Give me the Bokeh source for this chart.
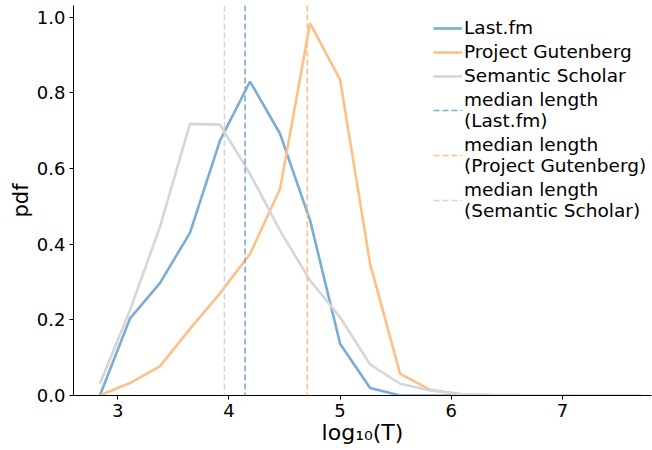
from bokeh.plotting import figure
from bokeh.models import Range1d, Span, Legend, LegendItem, FixedTicker
from bokeh.embed import file_html
from bokeh.resources import INLINE

# ---- data ----
log_t = [2.84, 3.11, 3.38, 3.65, 3.92, 4.19, 4.46, 4.73, 5.00, 5.27,
         5.54, 5.81, 6.08, 6.35, 6.62, 6.89, 7.16, 7.43, 7.70]
lastfm = [0.000, 0.203, 0.297, 0.430, 0.674, 0.830, 0.692, 0.463, 0.137, 0.020,
          0.000, 0.000, 0.000, 0.000, 0.000, 0.000, 0.000, 0.000, 0.000]
gutenberg = [0.000, 0.033, 0.077, 0.176, 0.270, 0.374, 0.546, 0.984, 0.835, 0.348,
             0.057, 0.015, 0.004, 0.001, 0.0005, 0.000, 0.000, 0.000, 0.000]
scholar = [0.031, 0.225, 0.445, 0.718, 0.716, 0.586, 0.436, 0.304, 0.207, 0.082,
           0.031, 0.013, 0.004, 0.002, 0.001, 0.0005, 0.000, 0.000, 0.000]

series_names = ["Last.fm", "Project Gutenberg", "Semantic Scholar"]
median_lengths = [4.146, 4.705, 3.96]
colors = ["#79add2", "#ffbf86", "#d6d6d6"]

x_ticks = [3, 4, 5, 6, 7]
y_ticks = [0.0, 0.2, 0.4, 0.6, 0.8, 1.0]
y_tick_labels = ["0.0", "0.2", "0.4", "0.6", "0.8", "1.0"]

FONT = "DejaVu Sans"

p = figure(width=652, height=450, output_backend="svg", toolbar_location=None,
           x_range=Range1d(2.603, 7.80), y_range=Range1d(0, 1.031),
           min_border_left=73, min_border_right=1, min_border_top=5,
           min_border_bottom=55)
p.outline_line_color = None
p.xgrid.visible = False
p.ygrid.visible = False
p.background_fill_color = "white"
p.border_fill_color = "white"

for ax in (p.xaxis[0], p.yaxis[0]):
    ax.major_label_text_font = FONT
    ax.major_label_text_font_size = "18px"
    ax.major_label_text_color = "black"
    ax.axis_label_text_font = FONT
    ax.axis_label_text_font_size = "21px"
    ax.axis_label_text_font_style = "normal"
    ax.axis_label_text_color = "black"
    ax.minor_tick_line_color = None
    ax.major_tick_in = 0
    ax.major_tick_out = 4
    ax.axis_line_color = "black"
    ax.major_tick_line_color = "black"

p.xaxis.ticker = FixedTicker(ticks=x_ticks)
p.yaxis.ticker = FixedTicker(ticks=y_ticks)
p.yaxis.major_label_overrides = {t: l for t, l in zip(y_ticks, y_tick_labels)}
p.xaxis.axis_label = "log\u2081\u2080(T)"
p.xaxis.axis_label_text_font_size = "22px"
p.yaxis.axis_label = "pdf"
p.xaxis.major_label_standoff = 4
p.yaxis.major_label_standoff = 4
p.xaxis.axis_label_standoff = 0
p.yaxis.axis_label_standoff = 1

items = []
series = [lastfm, gutenberg, scholar]
for name, ys, c in zip(series_names, series, colors):
    r = p.line(log_t, ys, line_color=c, line_width=2.6)
    items.append(LegendItem(label=name, renderers=[r]))

for name, m, c in zip(series_names, median_lengths, colors):
    p.add_layout(Span(location=m, dimension="height", line_color=c,
                      line_width=1.6, line_dash="6 3"))
    # legend-only handle (one non-drawable point), the span draws the line
    dummy = p.line(x=[m], y=[float("nan")], line_color=c, line_width=1.6,
                   line_dash="6 3")
    items.append(LegendItem(label="median length\n(" + name + ")", renderers=[dummy]))

legend = Legend(items=items, location=(356, 170))
legend.label_text_font = FONT
legend.label_text_font_size = "18.5px"
legend.label_text_color = "black"
legend.label_text_line_height = 1.17
legend.glyph_width = 29
legend.glyph_height = 20
legend.label_height = 20
legend.label_standoff = 2
legend.spacing = 3
legend.padding = 4
legend.margin = 0
legend.background_fill_alpha = 0
legend.border_line_alpha = 0
p.add_layout(legend)

open("out.html", "w").write(file_html(p, INLINE))
